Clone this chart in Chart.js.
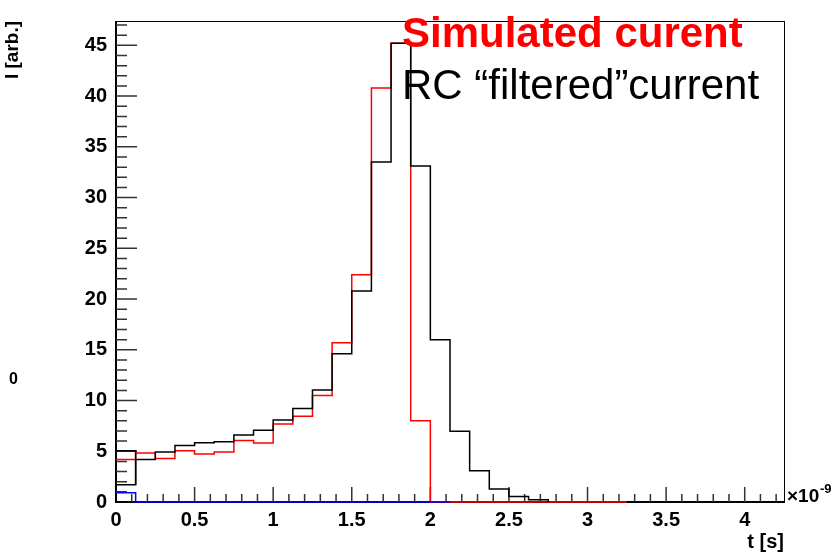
<!DOCTYPE html>
<html>
<head>
<meta charset="utf-8">
<script src="https://cdn.jsdelivr.net/npm/chart.js@4/dist/chart.umd.min.js"></script>
<style>
  html, body { margin: 0; padding: 0; background: #fff; }
  #wrap { width: 837px; height: 554px; }
</style>
</head>
<body>
<div id="wrap"><canvas id="pulseChart" width="837" height="554"></canvas></div>
<script>
// time bins are 0.125 (x1e-9 s) wide, first bin starts at t = 0
const binWidth = 0.125;

// induced current straight from the simulation
const simulatedCurrent = [4.19, 4.82, 4.28, 5.05, 4.72, 4.92, 6.07, 5.82, 7.69, 8.45,
  10.5, 15.7, 22.4, 40.8, 45.2, 8.0, 0, 0, 0, 0, 0, 0, 0, 0, 0, 0];

// same pulse after the RC filter
const filteredCurrent = [1.7, 4.19, 4.92, 5.56, 5.84, 5.94, 6.6, 7.07, 8.08, 9.21,
  11.03, 14.6, 20.8, 33.5, 45.2, 33.1, 16.0, 6.96, 3.07, 1.27, 0.55, 0.22];
const filteredFirstBin = 5.05;

// baseline trace
const baselineCurrent = [0.9, 0, 0, 0, 0, 0, 0, 0, 0, 0, 0, 0, 0, 0, 0, 0, 0];

const xTicks = [0, 0.5, 1, 1.5, 2, 2.5, 3, 3.5, 4];
const yTicks = [0, 5, 10, 15, 20, 25, 30, 35, 40, 45];

const FONT = '"Liberation Sans", Arial, Helvetica, sans-serif';

// histogram outline: one point per bin edge, closed down to zero at the end
function toSteps(values) {
  const pts = values.map((v, i) => ({ x: i * binWidth, y: v }));
  const end = values.length * binWidth;
  pts.push({ x: end, y: values[values.length - 1] });
  pts.push({ x: end, y: 0 });
  return pts;
}

function histo(data, color) {
  return {
    data: data,
    borderColor: color,
    borderWidth: 1.5,
    stepped: 'before', // horizontal at the bin value, then the vertical edge
    pointRadius: 0,
    fill: false,
    clip: false
  };
}

const frameAndTicks = {
  id: 'frameAndTicks',
  beforeDatasetsDraw(chart) {
    const { ctx, chartArea: a, scales: { x, y } } = chart;
    ctx.save();
    ctx.strokeStyle = '#000';
    ctx.lineWidth = 1;
    ctx.strokeRect(a.left + 0.5, a.top + 0.5, a.right - a.left, a.bottom - a.top);
    ctx.lineWidth = 2;
    ctx.beginPath();
    ctx.moveTo(a.left, a.top);
    ctx.lineTo(a.left, a.bottom);
    ctx.lineTo(a.right, a.bottom);
    ctx.stroke();

    ctx.strokeStyle = '#333';
    ctx.lineWidth = 1.5;
    ctx.beginPath();
    for (let v = 1; v <= 47; v++) {
      const py = y.getPixelForValue(v);
      const len = v % 5 === 0 ? 21 : 11;
      ctx.moveTo(a.left, py);
      ctx.lineTo(a.left + len, py);
    }
    for (let i = 1; i <= 42; i++) {
      const px = x.getPixelForValue(i / 10);
      const len = i % 5 === 0 ? 15 : 8;
      ctx.moveTo(px, a.bottom);
      ctx.lineTo(px, a.bottom - len);
    }
    ctx.stroke();
    ctx.restore();
  },
  afterDraw(chart) {
    const { ctx, chartArea: a } = chart;
    ctx.save();
    ctx.textAlign = 'left';
    ctx.textBaseline = 'alphabetic';
    ctx.fillStyle = '#ff0000';
    ctx.font = 'bold 42px ' + FONT;
    ctx.fillText('Simulated curent', 402, 47);
    ctx.fillStyle = '#000';
    ctx.font = '42px ' + FONT;
    ctx.fillText('RC \u201cfiltered\u201dcurrent', 402, 99);

    // axis exponent
    ctx.font = 'bold 19px ' + FONT;
    ctx.fillText('\u00d710', a.right + 3, a.bottom);
    ctx.font = 'bold 13px ' + FONT;
    ctx.fillText('-9', a.right + 36, a.bottom - 9);

    ctx.font = 'bold 16px ' + FONT;
    ctx.fillText('0', 9, 384);
    ctx.restore();
  }
};

const ctx = document.getElementById('pulseChart').getContext('2d');
const pulseChart = new Chart(ctx, {
  type: 'line',
  data: {
    datasets: [
      histo(toSteps(baselineCurrent), '#0000ff'),
      histo([{ x: 0, y: filteredFirstBin }, { x: binWidth, y: filteredFirstBin }, { x: binWidth, y: filteredCurrent[0] }], '#000000'),
      histo(toSteps(filteredCurrent), '#000000'),
      histo(toSteps(simulatedCurrent), '#ff0000')
    ]
  },
  options: {
    responsive: false,
    animation: false,
    layout: { padding: { top: 7, right: 53, left: 0, bottom: 0 } },
    plugins: {
      legend: { display: false },
      tooltip: { enabled: false }
    },
    scales: {
      x: {
        type: 'linear',
        min: 0,
        max: 4.25,
        grid: { display: false, drawTicks: false },
        border: { display: false },
        afterBuildTicks: s => { s.ticks = xTicks.map(v => ({ value: v })); },
        afterFit: s => { s.height = 52; },
        ticks: {
          color: '#000',
          padding: 6,
          maxRotation: 0,
          autoSkip: false,
          font: { family: FONT, size: 20, weight: 'bold' },
          callback: v => String(v)
        },
        title: {
          display: true,
          text: 't [s]',
          align: 'end',
          color: '#000',
          padding: 0,
          font: { family: FONT, size: 20, weight: 'bold' }
        }
      },
      y: {
        type: 'linear',
        min: 0,
        max: 47.4,
        grid: { display: false, drawTicks: false },
        border: { display: false },
        afterBuildTicks: s => { s.ticks = yTicks.map(v => ({ value: v })); },
        afterFit: s => { s.width = 116; },
        ticks: {
          color: '#000',
          padding: 9,
          font: { family: FONT, size: 20, weight: 'bold' },
          callback: v => String(v)
        },
        title: {
          display: true,
          text: 'I [arb.]',
          align: 'end',
          color: '#000',
          padding: { top: 1, bottom: 0 },
          font: { family: FONT, size: 19, weight: 'bold' }
        }
      }
    }
  },
  plugins: [frameAndTicks]
});
</script>
</body>
</html>
